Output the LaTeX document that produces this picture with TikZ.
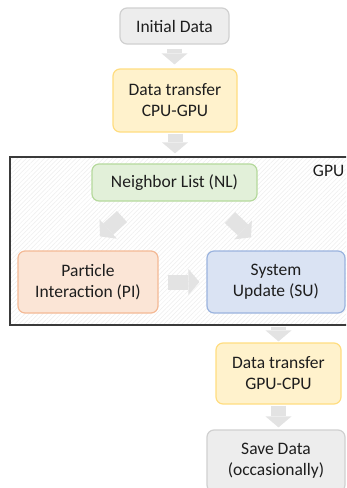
\documentclass[tikz,border=0pt]{standalone}
\usepackage{fontspec}
\setmainfont{Carlito}
\usetikzlibrary{arrows.meta,patterns.meta}

\definecolor{txt}{HTML}{1E1E1E}
\definecolor{grayfill}{HTML}{EDEDED}
\definecolor{grayline}{HTML}{D0D0D0}
\definecolor{yellowfill}{HTML}{FFF2CC}
\definecolor{yellowline}{HTML}{FFDD80}
\definecolor{greenfill}{HTML}{E2F0D9}
\definecolor{greenline}{HTML}{B5D99C}
\definecolor{orangefill}{HTML}{FBE5D6}
\definecolor{orangeline}{HTML}{F4B995}
\definecolor{bluefill}{HTML}{DAE3F3}
\definecolor{blueline}{HTML}{9AB3DE}
\definecolor{arrowgray}{HTML}{E3E3E3}
\definecolor{framegray}{HTML}{3A3A3A}
\definecolor{hatch}{HTML}{EEEEEE}

\begin{document}
\begin{tikzpicture}[x=1pt,y=-1pt,
  box/.style={rounded corners=7pt, line width=1.2pt, align=center,
    text=txt, font=\fontsize{17.5}{21}\selectfont, inner sep=0pt},
  graybox/.style={box, fill=grayfill, draw=grayline},
  yellowbox/.style={box, fill=yellowfill, draw=yellowline},
  greenbox/.style={box, fill=greenfill, draw=greenline},
  orangebox/.style={box, fill=orangefill, draw=orangeline},
  bluebox/.style={box, fill=bluefill, draw=blueline},
  gpuframe/.style={draw=framegray, line width=2.2pt,
    preaction={fill=white},
    pattern={Lines[angle=45,distance=3.2pt,line width=0.5pt]},
    pattern color=hatch, inner sep=0pt},
  barrow/.style={draw=arrowgray, line width=15pt,
    -{Triangle[length=11pt,width=26pt,line width=0pt]}},
]
\useasboundingbox (0,0) rectangle (346,488);
\clip (0,0) rectangle (346,488);

% GPU region
\node[gpuframe, minimum width=342pt, minimum height=168pt] (gpu) at (181,241) {};
\node[anchor=base east, inner sep=0pt, text=txt,
  font=\fontsize{17.5}{21}\selectfont] (gpulabel) at (344.5,176) {GPU};

% process boxes
\node[graybox, minimum width=109pt, minimum height=36pt] (init) at (174.5,26) {Initial Data};
\node[yellowbox, minimum width=124pt, minimum height=63pt] (cpugpu) at (175,100.5) {Data transfer\\CPU-GPU};
\node[greenbox, minimum width=165pt, minimum height=37pt] (nl) at (174.5,182.5) {Neighbor List (NL)};
\node[orangebox, minimum width=140pt, minimum height=62pt] (pi) at (88,282) {Particle\\Interaction (PI)};
\node[bluebox, minimum width=138pt, minimum height=62pt] (su) at (276,282) {System\\Update (SU)};
\node[yellowbox, minimum width=125pt, minimum height=61pt] (gpucpu) at (278.5,373.5) {Data transfer\\GPU-CPU};
\node[graybox, minimum width=138pt, minimum height=62pt] (save) at (276,461) {Save Data\\(occasionally)};

% block arrows
\draw[barrow, shorten <=4pt, shorten >=4pt] (init.south) -- (init.south |- cpugpu.north);
\draw[barrow, shorten <=1pt, shorten >=10pt] (cpugpu.south) -- (cpugpu.south |- nl.north);
\draw[barrow] ([shift={(-52.5,15)}]nl.south) -- ([shift={(12,-14)}]pi.north);
\draw[barrow] ([shift={(55.5,16)}]nl.south) -- ([shift={(-25,-13)}]su.north);
\draw[barrow, shorten <=9pt, shorten >=7pt] (pi.east) -- (su.west);
\draw[barrow, shorten <=13pt, shorten >=1pt] (gpucpu.north |- su.south) -- (gpucpu.north);
\draw[barrow, shorten <=1pt, shorten >=2pt] (gpucpu.south) -- (gpucpu.south |- save.north);
\end{tikzpicture}
\end{document}
